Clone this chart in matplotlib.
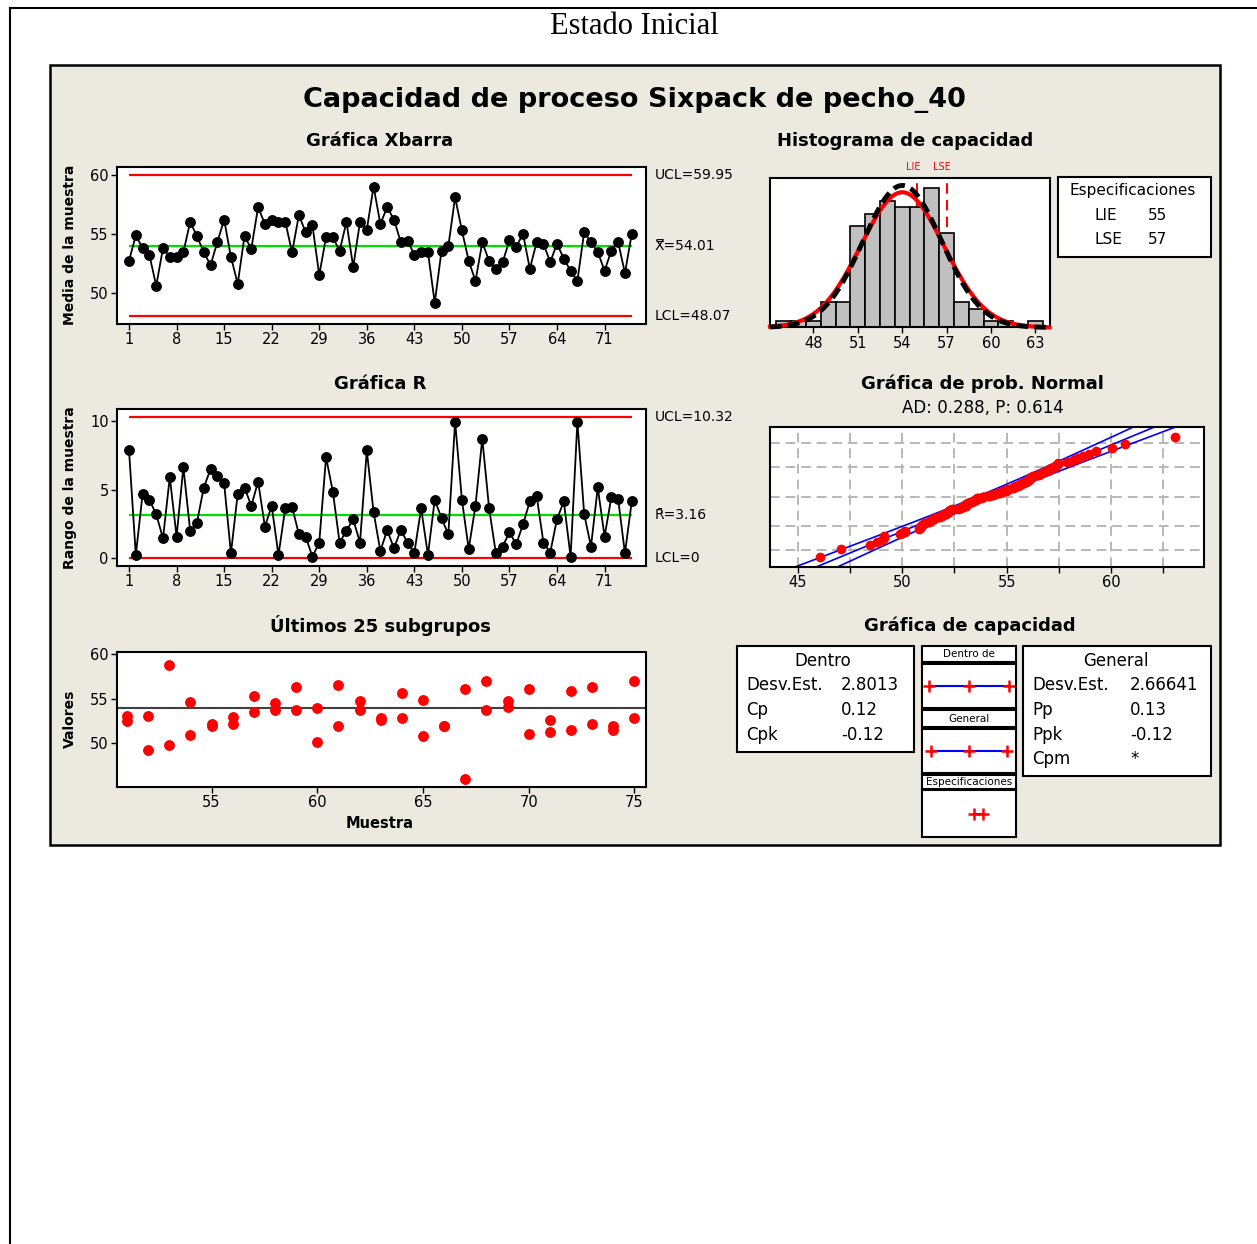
import numpy as np
import matplotlib
matplotlib.use('Agg')
import matplotlib.pyplot as plt
from matplotlib.patches import Rectangle
from matplotlib.lines import Line2D
from statistics import NormalDist

# subgroup means (Xbar chart), 75 subgroups of size 2
xbar = [52.75, 54.88, 53.80, 53.24, 50.63, 53.80, 53.08, 53.08, 53.46, 56.01,
        54.82, 53.46, 52.38, 54.31, 56.21, 53.07, 50.80, 54.82, 53.75, 57.26,
        55.84, 56.21, 56.04, 56.04, 53.44, 56.58, 55.16, 55.73, 51.54, 54.71,
        54.71, 53.58, 56.01, 52.22, 56.01, 55.36, 58.99, 55.84, 57.26, 56.21,
        54.31, 54.43, 53.25, 53.48, 53.48, 49.20, 53.59, 53.95, 58.09, 55.30,
        52.74, 51.05, 54.29, 52.74, 52.07, 52.63, 54.46, 53.93, 55.00, 52.07,
        54.29, 54.18, 52.63, 54.18, 52.91, 51.90, 51.05, 55.16, 54.29, 53.48,
        51.90, 53.59, 54.32, 51.70, 55.00]

# subgroup ranges (R chart)
rng = [7.88, 0.24, 4.71, 4.27, 3.22, 1.46, 5.93, 1.59, 6.66, 2.02,
       2.61, 5.17, 6.51, 6.02, 5.49, 0.37, 4.71, 5.17, 3.83, 5.61,
       2.32, 3.83, 0.24, 3.66, 3.78, 1.76, 1.59, 0.12, 1.15, 7.39,
       4.88, 1.15, 2.02, 2.85, 1.15, 7.88, 3.37, 0.54, 2.07, 0.73,
       2.07, 1.15, 0.41, 3.66, 0.24, 4.28, 2.93, 1.76, 9.98, 4.28,
       0.68, 3.84, 8.75, 3.67, 0.37, 0.86, 1.91, 1.03, 2.49, 4.16,
       4.57, 1.15, 0.42, 2.86, 4.16, 0.12, 9.98, 3.23, 0.86, 5.18,
       1.59, 4.47, 4.33, 0.37, 4.16]

# last 25 subgroups (51..75), both observations
last_ids = list(range(51, 76))
last_a = [53.10, 53.02, 58.81, 54.66, 52.20, 52.91, 55.34, 54.51, 56.31, 53.99,
          56.57, 54.74, 52.84, 55.63, 54.89, 51.98, 56.08, 57.01, 54.70, 56.08,
          52.61, 55.86, 56.31, 51.98, 57.01]
last_b = [52.54, 49.22, 49.85, 51.00, 51.98, 52.16, 53.54, 53.73, 53.77, 50.15,
          51.94, 53.73, 52.65, 52.87, 50.78, 51.90, 46.00, 53.77, 54.03, 51.04,
          51.27, 51.53, 52.20, 51.53, 52.87]

# capability histogram
hist_bins = list(range(46, 64))
hist_counts = [1, 1, 1, 4, 4, 16, 18, 20, 19, 19, 22, 15, 4, 3, 1, 1, 0, 1]

# statistics shown on the chart
xbarbar, ucl_x, lcl_x = 54.01, 59.95, 48.07
rbar, ucl_r, lcl_r = 3.16, 10.32, 0.0
lie, lse = 55, 57
sd_within, sd_overall = 2.8013, 2.66641
n_total = 150

W, H = 1257, 1244
BG = '#ECE9E0'
FONT = 'DejaVu Sans'
plt.rcParams['font.family'] = FONT

fig = plt.figure(figsize=(W / 100, H / 100), dpi=100)
fig.patch.set_facecolor('white')


def fx(x):
    return x / W


def fy(y):
    return 1 - y / H


def add_ax(x0, y0, x1, y1):
    return fig.add_axes([x0 / W, 1 - y1 / H, (x1 - x0) / W, (y1 - y0) / H])


def ftext(x, y, s, **kw):
    kw.setdefault('ha', 'center')
    kw.setdefault('va', 'center')
    return fig.text(x / W, 1 - y / H, s, **kw)


def box(x0, y0, x1, y1, lw=1.5):
    fig.add_artist(Rectangle((fx(x0), fy(y1)), (x1 - x0) / W, (y1 - y0) / H,
                             transform=fig.transFigure, facecolor='white',
                             edgecolor='black', lw=lw, zorder=0.5))


def style(ax, lw=1.5):
    for s in ax.spines.values():
        s.set_linewidth(lw)
        s.set_color('black')
    ax.tick_params(direction='out', length=4, width=1, labelsize=10.5, pad=2)


# page frame and panel
fig.add_artist(Line2D([fx(10), fx(10)], [fy(8), 0], color='black', lw=1.5))
fig.add_artist(Line2D([fx(10), 1], [fy(8), fy(8)], color='black', lw=1.5))
fig.add_artist(Rectangle((fx(50), fy(845)), (1220 - 50) / W, (845 - 65) / H,
                         transform=fig.transFigure, facecolor=BG,
                         edgecolor='black', lw=1.8, zorder=-1))

ftext(634, 27, 'Estado Inicial', family='Liberation Serif', fontsize=22)
ftext(634, 100, 'Capacidad de proceso Sixpack de pecho_40', fontsize=19.5, weight='bold')

samples = np.arange(1, 76)

# --- Xbar chart
ax1 = add_ax(117, 166.5, 646, 323.5)
ax1.hlines([ucl_x, lcl_x], 1, 75, color='red', lw=1.6, zorder=2)
ax1.hlines(xbarbar, 1, 75, color='#00E000', lw=1.6, zorder=2)
ax1.plot(samples, xbar, color='black', lw=1.3, marker='o', ms=6.8, zorder=3)
ax1.set_xlim(-0.77, 77.1)
ax1.set_ylim(47.46, 60.68)
ax1.set_xticks(range(1, 76, 7))
ax1.set_yticks([50, 55, 60])
style(ax1)
tr = ax1.get_yaxis_transform()
ax1.text(1.017, ucl_x, f'UCL={ucl_x:.2f}', transform=tr, va='center', fontsize=10)
ax1.text(1.017, xbarbar, f'X\u033F={xbarbar:.2f}', transform=tr, va='center', fontsize=10)
ax1.text(1.017, lcl_x, f'LCL={lcl_x:.2f}', transform=tr, va='center', fontsize=10)
ftext(380, 141, 'Gráfica Xbarra', fontsize=13, weight='bold')
ftext(70, 245, 'Media de la muestra', fontsize=10, weight='bold', rotation=90)

# --- R chart
ax2 = add_ax(117, 409, 646, 566)
ax2.hlines([ucl_r, lcl_r], 1, 75, color='red', lw=1.6, zorder=2)
ax2.hlines(rbar, 1, 75, color='#00E000', lw=1.6, zorder=2)
ax2.plot(samples, rng, color='black', lw=1.3, marker='o', ms=6.8, zorder=3)
ax2.set_xlim(-0.77, 77.1)
ax2.set_ylim(-0.56, 10.91)
ax2.set_xticks(range(1, 76, 7))
ax2.set_yticks([0, 5, 10])
style(ax2)
tr = ax2.get_yaxis_transform()
ax2.text(1.017, ucl_r, f'UCL={ucl_r:.2f}', transform=tr, va='center', fontsize=10)
ax2.text(1.017, rbar, f'R\u0304={rbar:.2f}', transform=tr, va='center', fontsize=10)
ax2.text(1.017, lcl_r, 'LCL=0', transform=tr, va='center', fontsize=10)
ftext(380, 384, 'Gráfica R', fontsize=13, weight='bold')
ftext(70, 488, 'Rango de la muestra', fontsize=10, weight='bold', rotation=90)

# --- last 25 subgroups
ax3 = add_ax(117, 652.5, 646, 786.5)
ax3.axhline(xbarbar, color='#404040', lw=1.5, zorder=2)
ax3.plot(last_ids, last_a, 'o', color='red', ms=6.8, zorder=3)
ax3.plot(last_ids, last_b, 'o', color='red', ms=6.8, zorder=3)
ax3.set_xlim(50.53, 75.55)
ax3.set_ylim(45.18, 60.18)
ax3.set_xticks([55, 60, 65, 70, 75])
ax3.set_yticks([50, 55, 60])
style(ax3)
ftext(380, 626, 'Últimos 25 subgrupos', fontsize=13, weight='bold')
ftext(70, 719, 'Valores', fontsize=10, weight='bold', rotation=90)
ftext(380, 824, 'Muestra', fontsize=10.5, weight='bold')

# --- capability histogram
ax4 = add_ax(770, 177.5, 1049.5, 327.5)
ax4.axvline(lie, color='red', lw=1.5, ls=(0, (5, 3)), zorder=1)
ax4.axvline(lse, color='red', lw=1.5, ls=(0, (5, 3)), zorder=1)
ax4.bar(hist_bins, hist_counts, width=1, color='#C0C0C0', edgecolor='black', lw=1.2, zorder=2)
xs = np.linspace(45.07, 63.95, 400)
pdf_w = n_total / (sd_within * np.sqrt(2 * np.pi)) * np.exp(-0.5 * ((xs - xbarbar) / sd_within) ** 2)
pdf_o = n_total / (sd_overall * np.sqrt(2 * np.pi)) * np.exp(-0.5 * ((xs - xbarbar) / sd_overall) ** 2)
ax4.plot(xs, pdf_w, color='red', lw=3, zorder=3, clip_on=False)
ax4.plot(xs, pdf_o, color='black', lw=3.5, ls=(0, (2.4, 1.3)), zorder=4, clip_on=False)
ax4.set_xlim(45.07, 63.95)
ax4.set_ylim(0, 23.7)
ax4.set_xticks([48, 51, 54, 57, 60, 63])
ax4.set_yticks([])
style(ax4)
ftext(913, 167, 'LIE', fontsize=7, color='red')
ftext(942, 167, 'LSE', fontsize=7, color='red')
ftext(905, 141, 'Histograma de capacidad', fontsize=13, weight='bold')

box(1058, 177, 1211, 257)
ftext(1133, 191, 'Especificaciones', fontsize=11)
ftext(1095, 216, 'LIE', fontsize=11, ha='left')
ftext(1148, 216, str(lie), fontsize=11, ha='left')
ftext(1095, 240, 'LSE', fontsize=11, ha='left')
ftext(1148, 240, str(lse), fontsize=11, ha='left')

# --- normal probability plot
obs = np.sort(np.concatenate([np.array(xbar) - np.array(rng) / 2,
                              np.array(xbar) + np.array(rng) / 2]))
nd = NormalDist()
m = len(obs)
zq = np.array([nd.inv_cdf((i - 0.3) / (m + 0.4)) for i in range(1, m + 1)])
ax5 = add_ax(770, 426.5, 1203.5, 567)
for g in [45, 47.5, 50, 52.5, 55, 57.5, 60, 62.5]:
    ax5.axvline(g, color='#B8B8B8', lw=1.4, ls=(0, (5, 3)), zorder=0)
for p in [0.01, 0.10, 0.50, 0.90, 0.99]:
    ax5.axhline(nd.inv_cdf(p), color='#B8B8B8', lw=1.4, ls=(0, (5, 3)), zorder=0)
zz = np.linspace(-3.1, 3.1, 100)
mid = xbarbar + zz * sd_overall
half = 1.96 * sd_overall * np.sqrt(1 / m + zz ** 2 / (2 * (m - 1)))
for line in (mid - half, mid, mid + half):
    ax5.plot(line, zz, color='#0000FF', lw=1.2, zorder=2)
ax5.plot(obs, zq, 'o', color='red', ms=6, zorder=3)
ax5.set_xlim(43.67, 64.43)
ax5.set_ylim(-3.05, 3.05)
ax5.set_xticks([45, 50, 55, 60])
ax5.set_xticks([47.5, 52.5, 57.5, 62.5], minor=True)
ax5.set_yticks([])
style(ax5)
ax5.tick_params(which='minor', direction='out', length=4, width=1)
ftext(982, 384, 'Gráfica de prob. Normal', fontsize=13, weight='bold')
ftext(983, 408, 'AD: 0.288, P: 0.614', fontsize=12)

# --- capability plot
ftext(970, 626, 'Gráfica de capacidad', fontsize=13, weight='bold')
box(737, 646, 914, 752)
ftext(823, 661, 'Dentro', fontsize=12)
for yy, lab, val in [(685, 'Desv.Est.', '2.8013'), (710, 'Cp', '0.12'), (735, 'Cpk', '-0.12')]:
    ftext(746, yy, lab, fontsize=12, ha='left')
    ftext(841, yy, val, fontsize=12, ha='left')

box(1023, 646, 1211, 776)
ftext(1116, 661, 'General', fontsize=12)
for yy, lab, val in [(685, 'Desv.Est.', '2.66641'), (710, 'Pp', '0.13'),
                     (735, 'Ppk', '-0.12'), (759, 'Cpm', '*')]:
    ftext(1032, yy, lab, fontsize=12, ha='left')
    ftext(1130, yy, val, fontsize=12, ha='left')

cap_rows = [('Dentro de', 646, 662, 664, 708, [xbarbar - 3 * sd_within, xbarbar, xbarbar + 3 * sd_within]),
            ('General', 710, 727, 729, 773, [xbarbar - 3 * sd_overall, xbarbar, xbarbar + 3 * sd_overall]),
            ('Especificaciones', 775, 789, 790, 837, [lie, lse])]
for name, h0, h1, p0, p1, pts in cap_rows:
    box(922, h0, 1016, h1)
    ftext(969, (h0 + h1) / 2, name, fontsize=7.5)
    axc = add_ax(922, p0, 1016, p1)
    axc.plot([pts[0], pts[-1]], [0, 0], color='#0000FF', lw=1.5)
    axc.plot(pts, [0] * len(pts), '+', color='red', ms=8, mew=1.8)
    axc.set_xlim(44.05, 63.97)
    axc.set_ylim(-1, 1)
    axc.set_xticks([])
    axc.set_yticks([])
    style(axc)

fig.savefig('out.png', dpi=100, facecolor='white')
